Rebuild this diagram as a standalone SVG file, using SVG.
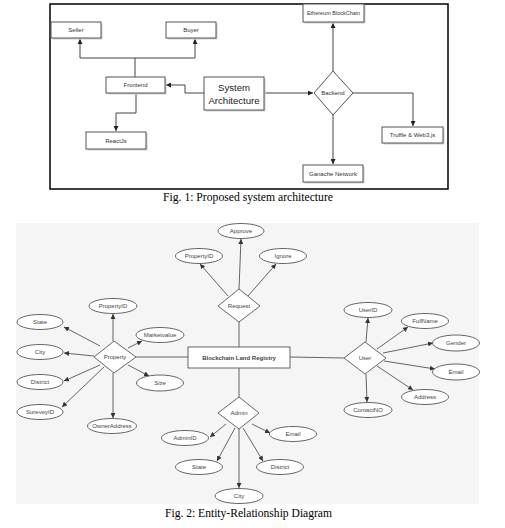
<svg xmlns="http://www.w3.org/2000/svg" width="505" height="528" viewBox="0 0 505 528">
<defs>
<marker id="ah" viewBox="0 0 10 10" refX="10" refY="5" markerWidth="5" markerHeight="5" markerUnits="userSpaceOnUse" orient="auto">
<path d="M0,0 L10,5 L0,10 z" fill="#222"/>
</marker>
<marker id="ah2" viewBox="0 0 10 10" refX="10" refY="5" markerWidth="5" markerHeight="5" markerUnits="userSpaceOnUse" orient="auto">
<path d="M0,0 L10,5 L0,10 z" fill="#333"/>
</marker>
</defs>
<style>
.box{fill:#fff;stroke:#555;stroke-width:1}
.shd{fill:#d0d0d0;stroke:none}
.lbl{font-family:"Liberation Sans",Arial,sans-serif;font-size:6px;fill:#333;text-anchor:middle;dominant-baseline:central}
.big{font-family:"Liberation Sans",Arial,sans-serif;font-size:9.6px;fill:#222;text-anchor:middle}
.cap{font-family:"Liberation Serif","Times New Roman",serif;font-size:12px;fill:#000}
.c1{fill:none;stroke:#444;stroke-width:1}
.c2{fill:none;stroke:#555;stroke-width:0.9}
.ell{fill:#fff;stroke:#555;stroke-width:0.9}
.dia{fill:#fff;stroke:#555;stroke-width:0.9}
.erl{font-family:"Liberation Sans",Arial,sans-serif;font-size:6px;fill:#444;text-anchor:middle;dominant-baseline:central}
</style>
<rect width="505" height="528" fill="#fff"/>

<!-- Figure 1 -->
<rect x="50" y="4" width="398" height="185" fill="#fff" stroke="#000" stroke-width="1.5"/>

<g id="connectors-fig1">
<polyline class="c1" points="135,77 135,58 80,58 80,39" marker-end="url(#ah)"/>
<polyline class="c1" points="135,58 195,58 195,39" marker-end="url(#ah)"/>
<polyline class="c1" points="204,93 185,93 185,85 166,85" marker-end="url(#ah)"/>
<polyline class="c1" points="136,93 136,113 116,113 116,131" marker-end="url(#ah)"/>
<line class="c1" x1="264" y1="93" x2="313" y2="93" marker-end="url(#ah)"/>
<line class="c1" x1="333" y1="71" x2="333" y2="23" marker-end="url(#ah)"/>
<polyline class="c1" points="353,93 413,93 413,126" marker-end="url(#ah)"/>
<line class="c1" x1="333" y1="115" x2="333" y2="164" marker-end="url(#ah)"/>
</g>

<g id="seller"><rect class="shd" x="52.5" y="23.5" width="50" height="16"/><rect class="box" x="51" y="22" width="50" height="16"/><text class="lbl" x="76" y="30">Seller</text></g>
<g id="buyer"><rect class="shd" x="167.5" y="23.5" width="50" height="16"/><rect class="box" x="166" y="22" width="50" height="16"/><text class="lbl" x="191" y="30">Buyer</text></g>
<g id="frontend"><rect class="shd" x="107.5" y="78.5" width="59" height="16"/><rect class="box" x="106" y="77" width="59" height="16"/><text class="lbl" x="135.5" y="85">Frontend</text></g>
<g id="reactjs"><rect class="shd" x="87.5" y="133.5" width="60" height="17"/><rect class="box" x="86" y="132" width="60" height="17"/><text class="lbl" x="116" y="140.5">ReactJs</text></g>
<g id="system-architecture"><rect class="shd" x="205.5" y="78.5" width="60" height="33"/><rect class="box" x="204" y="77" width="60" height="33"/><text class="big" x="234" y="90.5">System</text><text class="big" x="234" y="103.5">Architecture</text></g>
<g id="backend"><polygon class="box" points="314,93 333,71 353,93 333,115"/><text class="lbl" x="333" y="93">Backend</text></g>
<g id="ethereum"><rect class="shd" x="304.5" y="5.5" width="61" height="18"/><rect class="box" x="303" y="4" width="61" height="18"/><text class="lbl" x="333.5" y="13" style="font-size:5.5px">Ethereum BlockChain</text></g>
<g id="truffle"><rect class="shd" x="383.5" y="128.5" width="61" height="16"/><rect class="box" x="382" y="127" width="61" height="16"/><text class="lbl" x="412.5" y="135">Truffle &amp; Web3.js</text></g>
<g id="ganache"><rect class="shd" x="304.5" y="166.5" width="60" height="17"/><rect class="box" x="303" y="165" width="60" height="17"/><text class="lbl" x="333" y="173.5">Ganache Network</text></g>

<text class="cap" x="163" y="201" textLength="170" lengthAdjust="spacingAndGlyphs">Fig. 1: Proposed system architecture</text>

<!-- Figure 2 -->
<rect x="16" y="223" width="463" height="281" fill="#f5f5f5"/>

<g id="connectors-fig2">
<line class="c2" x1="239" y1="322" x2="239" y2="347"/>
<line class="c2" x1="239" y1="368" x2="239" y2="397"/>
<line class="c2" x1="188" y1="357" x2="136" y2="357"/>
<line class="c2" x1="290" y1="357" x2="344" y2="358"/>
<!-- request -->
<line class="c2" x1="239" y1="289" x2="241" y2="239" marker-end="url(#ah2)"/>
<line class="c2" x1="228" y1="296" x2="200" y2="264" marker-end="url(#ah2)"/>
<line class="c2" x1="248" y1="296" x2="276" y2="264" marker-end="url(#ah2)"/>
<!-- property -->
<line class="c2" x1="113" y1="341" x2="113" y2="314" marker-end="url(#ah2)"/>
<line class="c2" x1="100" y1="346" x2="64" y2="327" marker-end="url(#ah2)"/>
<line class="c2" x1="94" y1="356" x2="64" y2="353" marker-end="url(#ah2)"/>
<line class="c2" x1="100" y1="365" x2="64" y2="381" marker-end="url(#ah2)"/>
<line class="c2" x1="104" y1="367" x2="62" y2="407" marker-end="url(#ah2)"/>
<line class="c2" x1="113" y1="373" x2="113" y2="418" marker-end="url(#ah2)"/>
<line class="c2" x1="128" y1="348" x2="142" y2="341" marker-end="url(#ah2)"/>
<line class="c2" x1="128" y1="365" x2="149" y2="376" marker-end="url(#ah2)"/>
<!-- user -->
<line class="c2" x1="366" y1="342" x2="368" y2="318" marker-end="url(#ah2)"/>
<line class="c2" x1="377" y1="349" x2="408" y2="327" marker-end="url(#ah2)"/>
<line class="c2" x1="383" y1="353" x2="433" y2="343" marker-end="url(#ah2)"/>
<line class="c2" x1="384" y1="361" x2="435" y2="369" marker-end="url(#ah2)"/>
<line class="c2" x1="377" y1="366" x2="413" y2="390" marker-end="url(#ah2)"/>
<line class="c2" x1="366" y1="374" x2="367" y2="402" marker-end="url(#ah2)"/>
<!-- admin -->
<line class="c2" x1="226" y1="424" x2="210" y2="437" marker-end="url(#ah2)"/>
<line class="c2" x1="252" y1="424" x2="270" y2="433" marker-end="url(#ah2)"/>
<line class="c2" x1="235" y1="428" x2="217" y2="461" marker-end="url(#ah2)"/>
<line class="c2" x1="243" y1="428" x2="263" y2="461" marker-end="url(#ah2)"/>
<line class="c2" x1="239" y1="429" x2="239" y2="488" marker-end="url(#ah2)"/>
</g>

<g id="registry"><rect x="188" y="347" width="102" height="21" fill="#fff" stroke="#555" stroke-width="0.9"/><text class="erl" x="239" y="357.5" font-weight="bold" fill="#333">Blockchain Land Registry</text></g>

<g id="request"><polygon class="dia" points="218,306 239,289 260,306 239,322"/><text class="erl" x="239" y="306">Request</text></g>
<g id="req-approve"><ellipse class="ell" cx="241" cy="231" rx="23" ry="7.5"/><text class="erl" x="241" y="231">Approve</text></g>
<g id="req-propertyid"><ellipse class="ell" cx="199" cy="256" rx="23.5" ry="7.5"/><text class="erl" x="199" y="256">PropertyID</text></g>
<g id="req-ignore"><ellipse class="ell" cx="283" cy="256" rx="23.5" ry="7.5"/><text class="erl" x="283" y="256">Ignore</text></g>

<g id="property"><polygon class="dia" points="94,357 114,341 136,357 114,373"/><text class="erl" x="115" y="357">Property</text></g>
<g id="prop-propertyid"><ellipse class="ell" cx="113" cy="306" rx="24" ry="7.5"/><text class="erl" x="113" y="306">PropertyID</text></g>
<g id="prop-state"><ellipse class="ell" cx="40" cy="322" rx="23" ry="7.5"/><text class="erl" x="40" y="322">State</text></g>
<g id="prop-city"><ellipse class="ell" cx="40" cy="352" rx="23" ry="7.5"/><text class="erl" x="40" y="352">City</text></g>
<g id="prop-district"><ellipse class="ell" cx="40" cy="382" rx="23" ry="7.5"/><text class="erl" x="40" y="382">District</text></g>
<g id="prop-sureveyid"><ellipse class="ell" cx="40" cy="412" rx="23" ry="7.5"/><text class="erl" x="40" y="412">SureveyID</text></g>
<g id="prop-owneraddress"><ellipse class="ell" cx="112" cy="426" rx="24.5" ry="7.5"/><text class="erl" x="112" y="426">OwnerAddress</text></g>
<g id="prop-marketvalue"><ellipse class="ell" cx="160" cy="335" rx="24" ry="7.5"/><text class="erl" x="160" y="335">Marketvalue</text></g>
<g id="prop-size"><ellipse class="ell" cx="160" cy="383" rx="23.5" ry="8"/><text class="erl" x="160" y="383">Size</text></g>

<g id="user"><polygon class="dia" points="344,358 365,342 386,358 365,374"/><text class="erl" x="365" y="358">User</text></g>
<g id="user-userid"><ellipse class="ell" cx="368" cy="310" rx="24" ry="7.5"/><text class="erl" x="368" y="310">UserID</text></g>
<g id="user-fullname"><ellipse class="ell" cx="425" cy="321" rx="23.5" ry="7.5"/><text class="erl" x="425" y="321">FullName</text></g>
<g id="user-gender"><ellipse class="ell" cx="456" cy="343" rx="23.5" ry="8"/><text class="erl" x="456" y="343">Gender</text></g>
<g id="user-email"><ellipse class="ell" cx="456" cy="372" rx="23.5" ry="8"/><text class="erl" x="456" y="372">Email</text></g>
<g id="user-address"><ellipse class="ell" cx="425" cy="397" rx="23.5" ry="7.5"/><text class="erl" x="425" y="397">Address</text></g>
<g id="user-contactno"><ellipse class="ell" cx="368" cy="410" rx="24" ry="7.5"/><text class="erl" x="368" y="410">ContactNO</text></g>

<g id="admin"><polygon class="dia" points="218,413 239,397 259,413 239,429"/><text class="erl" x="239" y="413">Admin</text></g>
<g id="admin-adminid"><ellipse class="ell" cx="185" cy="438" rx="23.5" ry="7.5"/><text class="erl" x="185" y="438">AdminID</text></g>
<g id="admin-email"><ellipse class="ell" cx="293" cy="434" rx="23.5" ry="7.5"/><text class="erl" x="293" y="434">Email</text></g>
<g id="admin-state"><ellipse class="ell" cx="199" cy="467" rx="23.5" ry="7.5"/><text class="erl" x="199" y="467">State</text></g>
<g id="admin-district"><ellipse class="ell" cx="280" cy="467" rx="23.5" ry="7.5"/><text class="erl" x="280" y="467">District</text></g>
<g id="admin-city"><ellipse class="ell" cx="239" cy="496" rx="24" ry="7.5"/><text class="erl" x="239" y="496">City</text></g>

<text class="cap" x="165" y="517" textLength="167" lengthAdjust="spacingAndGlyphs">Fig. 2: Entity-Relationship Diagram</text>
</svg>
